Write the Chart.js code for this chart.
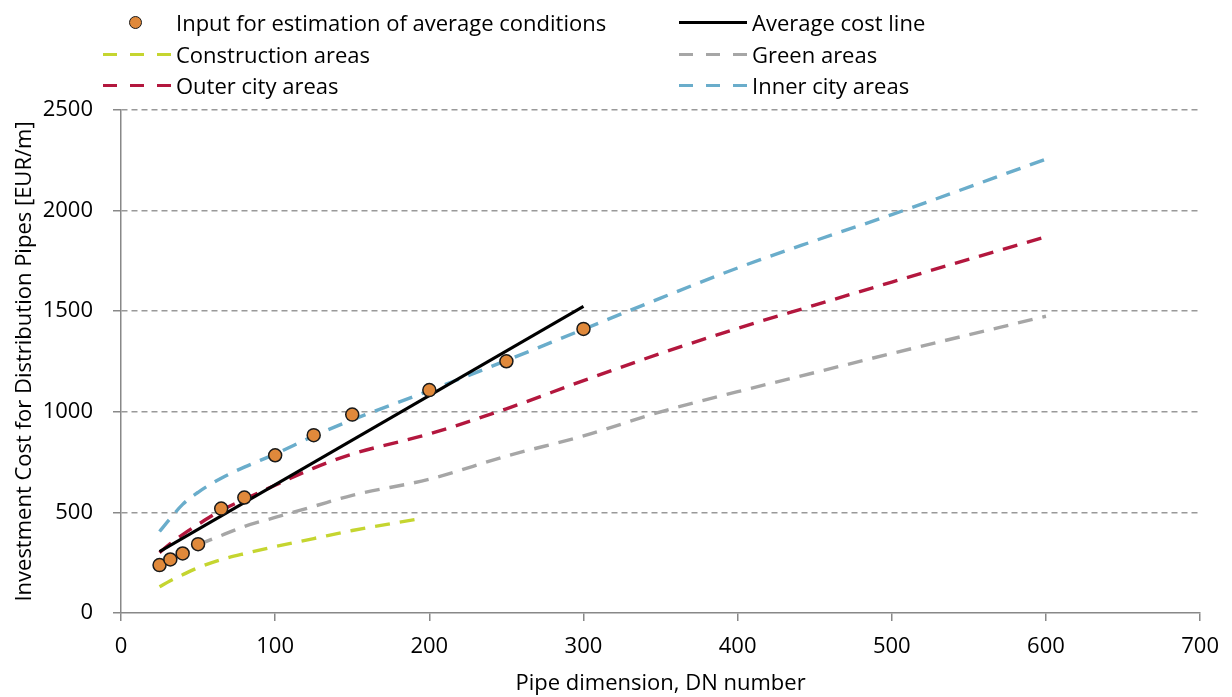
<!DOCTYPE html>
<html>
<head>
<meta charset="utf-8">
<script src="https://cdn.jsdelivr.net/npm/chart.js@4/dist/chart.umd.min.js"></script>
<style>
  body
  {
    margin: 0;
    background: #fff;
  }
  #wrap
  {
    position: relative;
    width: 1232px;
    height: 697px;
  }
  #legend
  {
    position: absolute;
    left: 0;
    top: 0;
    font-family: "Open Sans", sans-serif;
    font-size: 22px;
    color: #000;
  }
  .item
  {
    position: absolute;
    height: 30px;
    line-height: 30px;
    white-space: nowrap;
  }
  .sample
  {
    position: absolute;
    left: 0;
    top: 14px;
    width: 68px;
    height: 3px;
  }
  .dot
  {
    position: absolute;
    left: 26px;
    top: 9px;
    width: 11px;
    height: 11px;
    border-radius: 50%;
    background: #e0893b;
    border: 1.5px solid #1a1a1a;
  }
  .label
  {
    position: absolute;
    left: 73px;
    top: 0;
  }
</style>
</head>
<body>
<div id="wrap">
  <canvas id="chart" width="1232" height="697"></canvas>
  <div id="legend"></div>
</div>
<script>
// pipe dimension (DN) and investment cost [EUR/m]
const dnInput = [25, 32, 40, 50, 65, 80, 100, 125, 150, 200, 250, 300];
const costInput = [238, 266, 296, 342, 519, 574, 784, 884, 986, 1108, 1251, 1412];
const dnAverage = [25, 300];
const costAverage = [305, 1524];
const dnConstruction = [25, 32, 40, 50, 65, 80, 100, 125, 150, 195];
const costConstruction = [130, 160, 190, 225, 265, 295, 330, 370, 410, 470];
const dnGreen = [50, 65, 80, 100, 125, 150, 200, 250, 300, 350, 400, 450, 500, 600];
const costGreen = [340, 385, 430, 475, 530, 585, 665, 780, 880, 1000, 1100, 1195, 1290, 1475];
const dnCity = [25, 32, 40, 50, 65, 80, 100, 125, 150, 200, 250, 300, 350, 400, 450, 500, 600];
const costOuter = [300, 345, 390, 440, 510, 565, 635, 720, 790, 890, 1015, 1155, 1290, 1415, 1530, 1645, 1870];
const costInner = [405, 470, 540, 600, 670, 725, 790, 880, 960, 1105, 1255, 1410, 1565, 1715, 1850, 1980, 2256];

const labelInput = 'Input for estimation of average conditions';
const labelAverage = 'Average cost line';
const labelConstruction = 'Construction areas';
const labelGreen = 'Green areas';
const labelOuter = 'Outer city areas';
const labelInner = 'Inner city areas';

const colInput = '#e0893b';
const colAverage = '#000000';
const colConstruction = '#c5d530';
const colGreen = '#a6a6a6';
const colOuter = '#b3173e';
const colInner = '#6aadcb';

const fontFamily = '"Open Sans", sans-serif';
const fontSize = 22;

function pts(xs, ys)
{
  let out = [];
  for (let i = 0; i < xs.length; i++)
  {
    out.push({x: xs[i], y: ys[i]});
  }
  return out;
}

function curve(label, xs, ys, color)
{
  return {
    label: label,
    data: pts(xs, ys),
    borderColor: color,
    borderWidth: 3.4,
    borderDash: [15, 10],
    pointRadius: 0,
    cubicInterpolationMode: 'monotone',
    fill: false
  };
}

let datasets =
[
  {
    label: labelInput,
    data: pts(dnInput, costInput),
    showLine: false,
    pointRadius: 6.5,
    pointBorderWidth: 1.5,
    pointBackgroundColor: colInput,
    pointBorderColor: '#1a1a1a'
  },
  {
    label: labelAverage,
    data: pts(dnAverage, costAverage),
    borderColor: colAverage,
    borderWidth: 3,
    pointRadius: 0
  },
  curve(labelInner, dnCity, costInner, colInner),
  curve(labelOuter, dnCity, costOuter, colOuter),
  curve(labelGreen, dnGreen, costGreen, colGreen),
  curve(labelConstruction, dnConstruction, costConstruction, colConstruction)
];

// legend in two columns, three rows as in the figure
let legendItems =
[
  {label: labelInput, color: colInput, kind: 'dot', left: 103, top: 7},
  {label: labelAverage, color: colAverage, kind: 'solid', left: 679, top: 7},
  {label: labelConstruction, color: colConstruction, kind: 'dash', left: 103, top: 39},
  {label: labelGreen, color: colGreen, kind: 'dash', left: 679, top: 39},
  {label: labelOuter, color: colOuter, kind: 'dash', left: 103, top: 70},
  {label: labelInner, color: colInner, kind: 'dash', left: 679, top: 70}
];
let legend = document.getElementById('legend');
for (let it of legendItems)
{
  let div = document.createElement('div');
  div.className = 'item';
  div.style.left = it.left + 'px';
  div.style.top = it.top + 'px';
  let mark = document.createElement('div');
  if (it.kind == 'dot')
  {
    mark.className = 'dot';
  }
  else
  {
    mark.className = 'sample';
    if (it.kind == 'solid')
    {
      mark.style.background = it.color;
    }
    else
    {
      mark.style.background = 'repeating-linear-gradient(90deg, ' + it.color + ' 0 14px, transparent 14px 27px)';
    }
  }
  div.appendChild(mark);
  let span = document.createElement('span');
  span.className = 'label';
  span.textContent = it.label;
  div.appendChild(span);
  legend.appendChild(div);
}

new Chart(document.getElementById('chart'),
{
  type: 'line',
  data: {datasets: datasets},
  options:
  {
    responsive: false,
    animation: false,
    layout: {padding: {top: 110, right: 31, left: 0, bottom: 0}},
    plugins:
    {
      legend: {display: false},
      tooltip: {enabled: false}
    },
    scales:
    {
      x:
      {
        type: 'linear',
        min: 0,
        max: 700,
        ticks: {stepSize: 100, color: '#000', padding: 13, font: {family: fontFamily, size: fontSize}, callback: (v) => String(v)},
        grid: {drawOnChartArea: false, tickLength: 8, tickColor: '#888', lineWidth: 1.5},
        border: {color: '#888', width: 1.5},
        title: {display: true, text: 'Pipe dimension, DN number', color: '#000', padding: {top: 0, bottom: 0}, font: {family: fontFamily, size: fontSize}},
        afterFit: (s) =>
        {
          s.height = 84;
        }
      },
      y:
      {
        min: 0,
        max: 2500,
        ticks: {stepSize: 500, color: '#000', padding: 20, font: {family: fontFamily, size: fontSize}, callback: (v) => String(v)},
        grid:
        {
          color: (c) => (c.tick && c.tick.value === 0) ? 'rgba(0,0,0,0)' : '#999',
          lineWidth: 1.5,
          tickLength: 8,
          tickColor: '#888'
        },
        border: {color: '#888', width: 1.5, dash: [6, 4]},
        title: {display: true, text: 'Investment Cost for Distribution Pipes [EUR/m]', color: '#000', padding: {top: 12, bottom: 0}, font: {family: fontFamily, size: fontSize}},
        afterFit: (s) =>
        {
          s.width = 121;
        }
      }
    }
  }
});
</script>
</body>
</html>
